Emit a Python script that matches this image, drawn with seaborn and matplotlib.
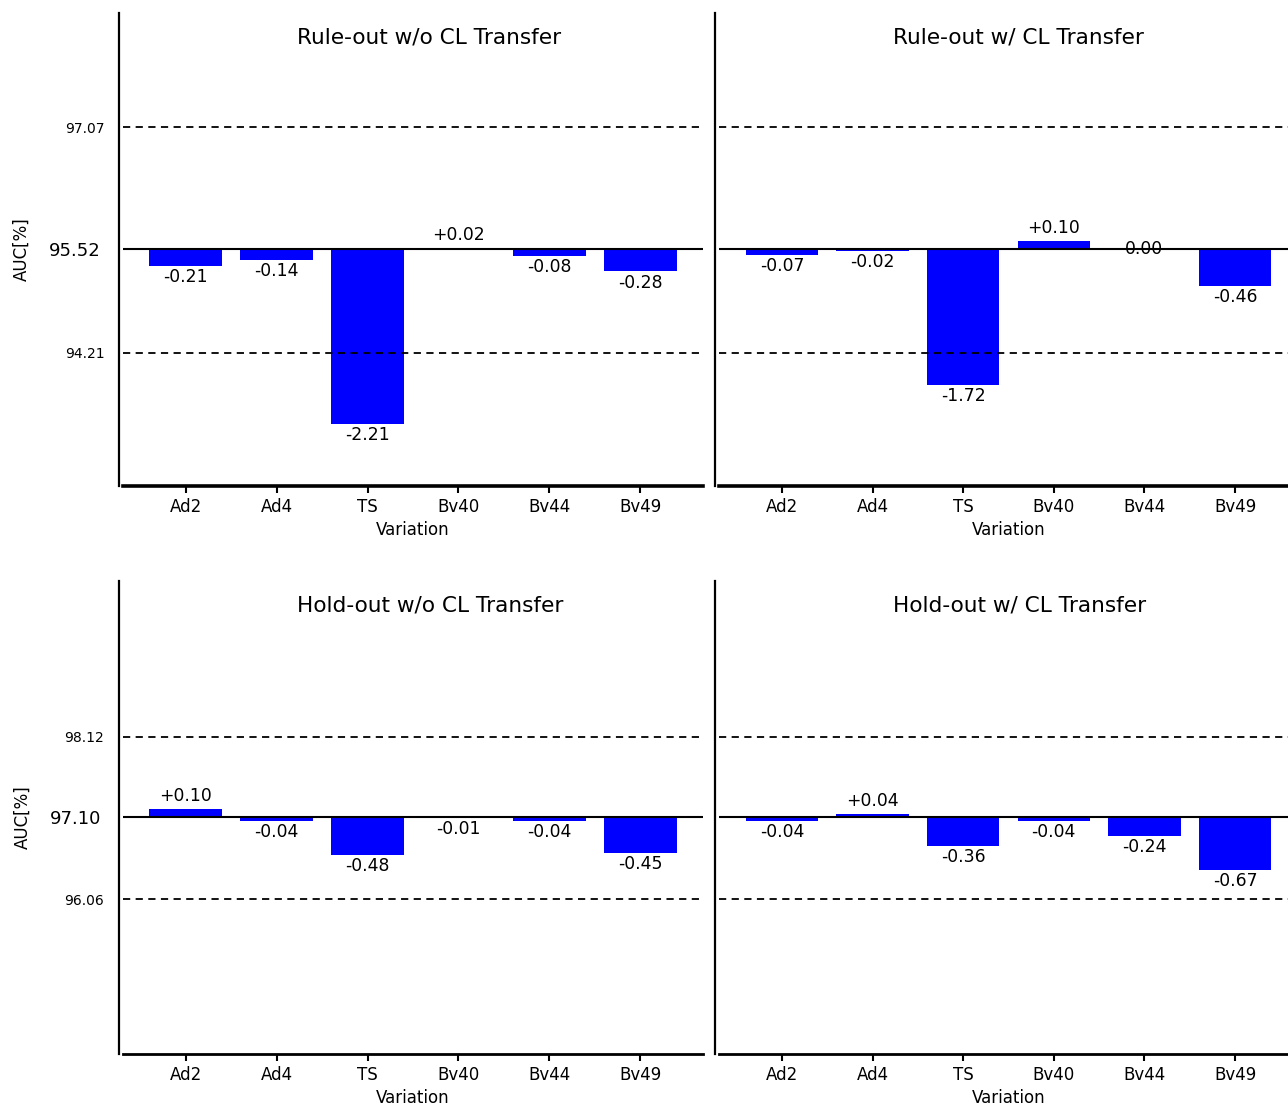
import matplotlib
matplotlib.use("Agg")
import matplotlib.pyplot as plt
import seaborn as sns

variations = ["Ad2", "Ad4", "TS", "Bv40", "Bv44", "Bv49"]

titles = ["Rule-out w/o CL Transfer", "Rule-out w/ CL Transfer",
          "Hold-out w/o CL Transfer", "Hold-out w/ CL Transfer"]

# change vs. baseline AUC, one list per panel
ruleout_no_cl = [-0.21, -0.14, -2.21, 0.02, -0.08, -0.28]
ruleout_cl = [-0.07, -0.02, -1.72, 0.10, 0.00, -0.46]
holdout_no_cl = [0.10, -0.04, -0.48, -0.01, -0.04, -0.45]
holdout_cl = [-0.04, 0.04, -0.36, -0.04, -0.24, -0.67]

# per row: baseline, upper and lower reference AUC
baseline_auc = [95.52, 97.10]
upper_auc = [97.07, 98.12]
lower_auc = [94.21, 96.06]

sns.set_style("ticks")
plt.rcParams["font.family"] = ["DejaVu Sans"]
plt.rcParams.update({"text.color": "black", "axes.labelcolor": "black",
                     "axes.edgecolor": "black", "xtick.color": "black",
                     "ytick.color": "black"})

fig = plt.figure(figsize=(12.88, 11.07), dpi=100)

lefts = [0.0955, 0.5586]
widths = [0.4503, 0.4488]
bottoms = [0.561, 0.0479]
height = 0.4275

panel_data = [[ruleout_no_cl, ruleout_cl], [holdout_no_cl, holdout_cl]]

for r in range(2):
    base = baseline_auc[r]
    for c in range(2):
        ax = fig.add_axes([lefts[c], bottoms[r], widths[c], height])
        deltas = panel_data[r][c]
        sns.barplot(x=variations, y=deltas, bottom=base, color="blue",
                    saturation=1, width=0.8, errorbar=None,
                    edgecolor="none", linewidth=0, ax=ax)
        ax.set_xlim(-0.69, 5.69)
        ax.set_ylim(base - 3.0, base + 3.0)

        ax.axhline(base, color="black", lw=1.5, zorder=3)
        ax.axhline(upper_auc[r], color="black", lw=1.3, ls=(0, (4, 3)), zorder=1)
        ax.axhline(lower_auc[r], color="black", lw=1.3, ls=(0, (4, 3)), zorder=1)

        for i, v in enumerate(deltas):
            if v > 0:
                txt, off, va = f"{v:+.2f}", 3, "bottom"
            elif v < 0:
                txt, off, va = f"{v:.2f}", -1.5, "top"
            else:
                txt, off, va = f"{v:.2f}", 0, "center"
            ax.annotate(txt, (i, base + v), xytext=(0, off),
                        textcoords="offset points", ha="center", va=va,
                        fontsize=12.4, zorder=4)

        ax.text(0.30, 0.948, titles[r * 2 + c], transform=ax.transAxes,
                ha="left", va="center", fontsize=15.6)

        sns.despine(ax=ax)
        ax.spines["left"].set_position(("outward", 3))
        ax.spines["left"].set_linewidth(1.6)
        ax.spines["bottom"].set_linewidth(2.6 if r == 0 else 2.0)

        ax.set_yticks([upper_auc[r], base, lower_auc[r]])
        ax.set_yticklabels([f"{upper_auc[r]:.2f}", f"{base:.2f}",
                            f"{lower_auc[r]:.2f}"])
        ax.tick_params(axis="y", length=0, pad=10.5, labelsize=10)
        ax.tick_params(axis="x", length=5, width=1.5, labelsize=12)
        ax.get_yticklabels()[1].set_fontsize(13)
        ax.yaxis.get_major_ticks()[1].set_pad(13)
        ax.set_xlabel("Variation", fontsize=12)

        if c == 0:
            ax.set_ylabel("AUC[%]", fontsize=12, labelpad=13)
        else:
            ax.tick_params(axis="y", labelleft=False)
            ax.set_ylabel("")

fig.savefig("out.png", dpi=100)
